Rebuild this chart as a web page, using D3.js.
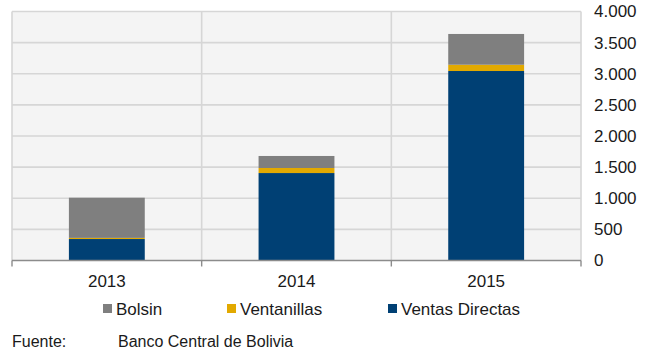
<!DOCTYPE html>
<html>
<head>
<meta charset="utf-8">
<script src="https://cdn.jsdelivr.net/npm/d3@7"></script>
<style>
  html, body { margin: 0; padding: 0; background: #ffffff; }
  svg { display: block; font-family: "Liberation Sans", Arial, sans-serif; }
</style>
</head>
<body>
<svg id="chart" width="648" height="356"></svg>
<script>
// Foreign-currency sales by channel (millions of USD)
const years = ["2013", "2014", "2015"];
const ventasDirectas = [345, 1405, 3044];
const ventanillas = [18, 81, 101];
const bolsin = [646, 193, 494];
const seriesNames = ["Ventas Directas", "Ventanillas", "Bolsin"];
const legendOrder = ["Bolsin", "Ventanillas", "Ventas Directas"];
const yTicks = [0, 500, 1000, 1500, 2000, 2500, 3000, 3500, 4000];
const sourceLabel = "Fuente:";
const sourceText = "Banco Central de Bolivia";

const colors = {
  "Bolsin": "#7f7f7f",
  "Ventanillas": "#e2a900",
  "Ventas Directas": "#004074"
};

const rows = years.map((yr, i) => ({
  year: yr,
  "Ventas Directas": ventasDirectas[i],
  "Ventanillas": ventanillas[i],
  "Bolsin": bolsin[i]
}));

const svg = d3.select("#chart");
const plotLeft = 12, plotRight = 581, plotTop = 11.5, plotBottom = 260.5;

const x = d3.scaleBand().domain(years).range([plotLeft, plotRight]).paddingInner(0).paddingOuter(0);
const y = d3.scaleLinear().domain([0, 4000]).range([plotBottom, plotTop]);

const locale = d3.formatLocale({ decimal: ",", thousands: ".", grouping: [3], currency: ["", ""] });
const fmt = locale.format(",");

// plot background
svg.append("rect")
  .attr("x", plotLeft).attr("y", plotTop)
  .attr("width", plotRight - plotLeft).attr("height", plotBottom - plotTop)
  .attr("fill", "#f4f4f4");

// horizontal gridlines
svg.append("g").selectAll("line")
  .data(yTicks.filter(d => d > 0))
  .join("line")
  .attr("x1", plotLeft).attr("x2", plotRight)
  .attr("y1", d => y(d)).attr("y2", d => y(d))
  .attr("stroke", "#d6d6d6").attr("stroke-width", 1.6);

// vertical gridlines at category boundaries
const bounds = years.map(d => x(d)).concat([x(years[years.length - 1]) + x.bandwidth()]);
svg.append("g").selectAll("line")
  .data(bounds)
  .join("line")
  .attr("x1", d => d).attr("x2", d => d)
  .attr("y1", plotTop).attr("y2", plotBottom)
  .attr("stroke", "#d6d6d6").attr("stroke-width", 1.6);

// stacked bars
const stacked = d3.stack().keys(seriesNames)(rows);
const barW = x.bandwidth() * 0.4;

svg.append("g").selectAll("g")
  .data(stacked)
  .join("g")
  .attr("fill", d => colors[d.key])
  .selectAll("rect")
  .data(d => d)
  .join("rect")
  .attr("x", d => x(d.data.year) + (x.bandwidth() - barW) / 2)
  .attr("width", barW)
  .attr("y", d => y(d[1]))
  .attr("height", d => y(d[0]) - y(d[1]));

// category axis line and boundary ticks
svg.append("line")
  .attr("x1", plotLeft).attr("x2", plotRight)
  .attr("y1", plotBottom).attr("y2", plotBottom)
  .attr("stroke", "#8c8c8c").attr("stroke-width", 1.6);
svg.append("g").selectAll("line")
  .data(bounds)
  .join("line")
  .attr("x1", d => d).attr("x2", d => d)
  .attr("y1", plotBottom).attr("y2", plotBottom + 6)
  .attr("stroke", "#8c8c8c").attr("stroke-width", 1.4);

// category labels
const xAxis = svg.append("g")
  .attr("transform", `translate(0,${plotBottom})`)
  .call(d3.axisBottom(x).tickSize(0).tickPadding(14.5));
xAxis.select(".domain").remove();
xAxis.selectAll("text")
  .attr("font-size", 17)
  .attr("font-family", "Liberation Sans, Arial, sans-serif")
  .attr("fill", "#1a1a1a");

// value axis on the right
const yAxis = svg.append("g")
  .attr("transform", `translate(${plotRight},0)`)
  .call(d3.axisRight(y).tickValues(yTicks).tickFormat(fmt).tickSize(0).tickPadding(13));
yAxis.select(".domain").remove();
yAxis.selectAll("text")
  .attr("font-size", 17)
  .attr("font-family", "Liberation Sans, Arial, sans-serif")
  .attr("fill", "#1a1a1a");

// legend
const legendX = [103, 227, 388];
const legend = svg.append("g").selectAll("g")
  .data(legendOrder)
  .join("g")
  .attr("transform", (d, i) => `translate(${legendX[i]},0)`);
legend.append("rect")
  .attr("x", 0).attr("y", 304)
  .attr("width", 9).attr("height", 9)
  .attr("fill", d => colors[d]);
legend.append("text")
  .attr("x", 13).attr("y", 315)
  .attr("font-size", 17)
  .attr("fill", "#1a1a1a")
  .text(d => d);

// source note
svg.append("text")
  .attr("x", 12).attr("y", 347)
  .attr("font-size", 16).attr("fill", "#1a1a1a")
  .text(sourceLabel);
svg.append("text")
  .attr("x", 118).attr("y", 347)
  .attr("font-size", 16).attr("fill", "#1a1a1a")
  .text(sourceText);
</script>
</body>
</html>
